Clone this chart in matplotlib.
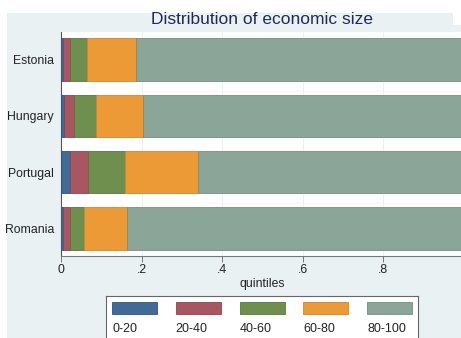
import matplotlib.pyplot as plt
import numpy as np
from matplotlib.patches import Rectangle

plt.rcParams['font.family'] = ['Liberation Sans', 'DejaVu Sans']

countries = ['Estonia', 'Hungary', 'Portugal', 'Romania']
quintiles = ['0-20', '20-40', '40-60', '60-80', '80-100']

# share of each quintile in economic size
q1 = [0.006, 0.008, 0.022, 0.006]
q2 = [0.016, 0.024, 0.045, 0.016]
q3 = [0.043, 0.054, 0.091, 0.035]
q4 = [0.121, 0.117, 0.182, 0.106]
q5 = [0.814, 0.797, 0.660, 0.837]

xticks = [0, 0.2, 0.4, 0.6, 0.8]
xticklabels = ['0', '.2', '.4', '.6', '.8']

colors = ['#3f6b96', '#a8565f', '#6f8f4f', '#eb9a35', '#8ba598']
edges = ['#2f5580', '#8e424b', '#58763b', '#d4842a', '#74907f']
bg = '#eaf1f3'

W, H = 461, 338
fig = plt.figure(figsize=(W / 100, H / 100), dpi=100)
fig.patch.set_facecolor('white')

# grey background of the graph region
fig.patches.append(Rectangle((7 / W, 0), 1, (H - 13) / H, transform=fig.transFigure,
                             facecolor=bg, edgecolor='none', zorder=-10))
fig.patches.append(Rectangle((453 / W, (H - 25) / H), 1, 12 / H, transform=fig.transFigure,
                             facecolor='white', edgecolor='none', zorder=-9))


def px(l, t, r, b):
    return [l / W, (H - b) / H, (r - l) / W, (b - t) / H]


ax = fig.add_axes(px(61, 32, 463.5, 256))
ax.set_facecolor('white')

y = np.arange(len(countries))
left = np.zeros(len(countries))
for vals, c, e in zip([q1, q2, q3, q4, q5], colors, edges):
    ax.barh(y, vals, left=left, height=0.75, color=c, edgecolor=e, linewidth=0.6, zorder=3)
    left = left + np.array(vals)

ax.set_xlim(0, 1)
ax.set_ylim(len(countries) - 1 + 0.49, -0.49)
ax.set_yticks(y, labels=countries)
ax.set_xticks(xticks, labels=xticklabels)
ax.grid(axis='x', color=bg, linewidth=0.8, zorder=1)
ax.tick_params(axis='y', length=0, pad=5, labelsize=8.8, labelcolor='#222222')
ax.tick_params(axis='x', length=4, width=0.7, color='#777777', pad=2,
               labelsize=8.8, labelcolor='#222222')
for s in ['top', 'right']:
    ax.spines[s].set_visible(False)
ax.spines['left'].set_color('#555555')
ax.spines['bottom'].set_color('#777777')
ax.spines['left'].set_linewidth(0.8)
ax.spines['bottom'].set_linewidth(0.8)

fig.text(262 / W, 1 - 20 / H, 'Distribution of economic size', ha='center', va='center',
         fontsize=12.5, color='#1f2b5a')
fig.text(262 / W, 1 - 284 / H, 'quintiles', ha='center', va='center',
         fontsize=8.8, color='#222222')

# legend box in Stata style: key above label
lax = fig.add_axes(px(106, 296, 418, 345))
lax.set_xlim(106, 418)
lax.set_ylim(345, 296)
lax.set_facecolor('white')
for s in lax.spines.values():
    s.set_color('#666666')
    s.set_linewidth(0.8)
lax.set_xticks([])
lax.set_yticks([])
for i, (lab, c, e) in enumerate(zip(quintiles, colors, edges)):
    x0 = 112 + i * 63.8
    lax.add_patch(Rectangle((x0, 302), 45, 12, facecolor=c, edgecolor=e, linewidth=0.6))
    lax.text(x0, 329, lab, ha='left', va='center', fontsize=9, color='#222222')

fig.savefig('out.png', dpi=100)
